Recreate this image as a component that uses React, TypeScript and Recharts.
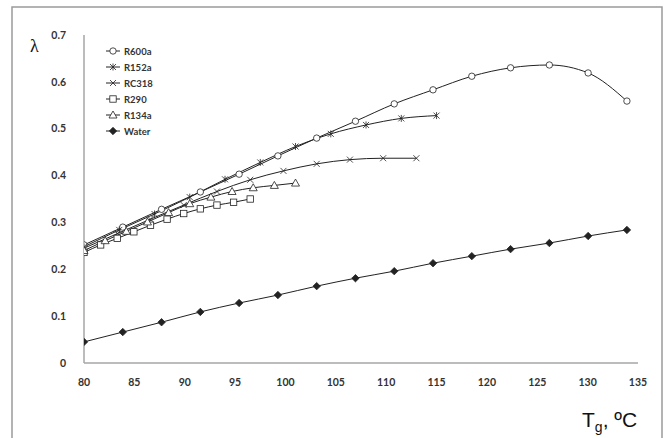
import React from "react";
import { LineChart, Line, XAxis, YAxis } from "recharts";

const R600A_T = [80, 83.85, 87.7, 91.55, 95.4, 99.25, 103.1, 106.95, 110.8, 114.65, 118.5, 122.35, 126.2, 130.05, 133.9];
const R600A_L = [0.252, 0.29, 0.328, 0.365, 0.403, 0.442, 0.48, 0.516, 0.553, 0.583, 0.612, 0.63, 0.636, 0.619, 0.559];

const R152A_T = [80, 83.5, 87, 90.5, 94, 97.5, 101, 104.5, 108, 111.5, 115];
const R152A_L = [0.248, 0.284, 0.318, 0.354, 0.392, 0.428, 0.462, 0.489, 0.508, 0.522, 0.528];

const RC318_T = [80, 83.3, 86.6, 89.9, 93.2, 96.5, 99.8, 103.1, 106.4, 109.7, 113];
const RC318_L = [0.245, 0.276, 0.307, 0.337, 0.366, 0.391, 0.41, 0.425, 0.434, 0.437, 0.437];

const R290_T = [80, 81.65, 83.3, 84.95, 86.6, 88.25, 89.9, 91.55, 93.2, 94.85, 96.5];
const R290_L = [0.236, 0.252, 0.266, 0.28, 0.294, 0.307, 0.319, 0.329, 0.337, 0.343, 0.35];

const R134A_T = [80, 82.1, 84.2, 86.3, 88.4, 90.5, 92.6, 94.7, 96.8, 98.9, 101];
const R134A_L = [0.24, 0.261, 0.281, 0.301, 0.321, 0.34, 0.354, 0.366, 0.374, 0.379, 0.384];

const WATER_T = [80, 83.85, 87.7, 91.55, 95.4, 99.25, 103.1, 106.95, 110.8, 114.65, 118.5, 122.35, 126.2, 130.05, 133.9];
const WATER_L = [0.045, 0.066, 0.087, 0.109, 0.128, 0.145, 0.164, 0.181, 0.196, 0.213, 0.228, 0.243, 0.256, 0.271, 0.284];

const X_TICKS = [80, 85, 90, 95, 100, 105, 110, 115, 120, 125, 130, 135];
const Y_TICKS = [0, 0.1, 0.2, 0.3, 0.4, 0.5, 0.6, 0.7];
const Y_LABELS = ["0", "0.1", "0.2", "0.3", "0.4", "0.5", "0.6", "0.7"];

const SERIES_NAMES = ["R600a", "R152a", "RC318", "R290", "R134a", "Water"];
const SERIES_MARKERS = ["circle", "star", "cross", "square", "triangle", "diamond"];

const build = (ts: number[], ls: number[]) => ts.map((t, i) => ({ t, v: ls[i] }));

const SERIES = [
  build(R600A_T, R600A_L),
  build(R152A_T, R152A_L),
  build(RC318_T, RC318_L),
  build(R290_T, R290_L),
  build(R134A_T, R134A_L),
  build(WATER_T, WATER_L),
];

const INK = "#222";

function Marker({ type, cx, cy }: { type: string; cx: number; cy: number }) {
  const sw = 0.8;
  switch (type) {
    case "circle":
      return <circle cx={cx} cy={cy} r={3.2} fill="#fff" stroke={INK} strokeWidth={sw} />;
    case "star":
      return (
        <g stroke={INK} strokeWidth={sw}>
          <line x1={cx - 3} y1={cy - 3} x2={cx + 3} y2={cy + 3} />
          <line x1={cx - 3} y1={cy + 3} x2={cx + 3} y2={cy - 3} />
          <line x1={cx} y1={cy - 3.5} x2={cx} y2={cy + 3.5} />
        </g>
      );
    case "cross":
      return (
        <g stroke={INK} strokeWidth={sw}>
          <line x1={cx - 3} y1={cy - 3} x2={cx + 3} y2={cy + 3} />
          <line x1={cx - 3} y1={cy + 3} x2={cx + 3} y2={cy - 3} />
        </g>
      );
    case "square":
      return <rect x={cx - 3.2} y={cy - 3.2} width={6.4} height={6.4} fill="#fff" stroke={INK} strokeWidth={sw} />;
    case "triangle":
      return (
        <polygon
          points={`${cx},${cy - 4} ${cx + 4},${cy + 3} ${cx - 4},${cy + 3}`}
          fill="#fff"
          stroke={INK}
          strokeWidth={sw}
        />
      );
    case "diamond":
    default:
      return (
        <polygon
          points={`${cx},${cy - 3.7} ${cx + 3.7},${cy} ${cx},${cy + 3.7} ${cx - 3.7},${cy}`}
          fill={INK}
          stroke={INK}
          strokeWidth={sw}
        />
      );
  }
}

const tickStyle = { fontFamily: "Lato, 'Open Sans', sans-serif", fontSize: 10.5, fontWeight: 700, fill: "#333" };

export default function App() {
  const W = 664;
  const H = 438;
  return (
    <div style={{ position: "absolute", left: 0, top: 0, width: W, height: H, background: "#fff" }}>
      <LineChart
        width={W}
        height={H}
        margin={{ top: 35, right: 26, bottom: 45, left: 34 }}
      >
        <XAxis
          type="number"
          dataKey="t"
          domain={[80, 135]}
          ticks={X_TICKS}
          interval={0}
          allowDataOverflow
          height={30}
          tickLine={false}
          tickSize={0}
          tickMargin={16}
          axisLine={{ stroke: "#a6a6a6", strokeWidth: 1.5 }}
          tick={tickStyle}
        />
        <YAxis
          type="number"
          domain={[0, 0.7]}
          ticks={Y_TICKS}
          interval={0}
          width={50}
          tickLine={false}
          tickSize={0}
          tickMargin={18}
          tickFormatter={(v: number) => Y_LABELS[Y_TICKS.findIndex((y) => Math.abs(y - v) < 1e-9)] ?? String(v)}
          axisLine={{ stroke: "#a6a6a6", strokeWidth: 1.5 }}
          tick={tickStyle}
        />
        {SERIES.map((data, si) => (
          <Line
            key={SERIES_NAMES[si]}
            data={data}
            dataKey="v"
            name={SERIES_NAMES[si]}
            type="monotone"
            stroke={INK}
            strokeWidth={1}
            isAnimationActive={false}
            dot={(p: any) => (
              <Marker key={`${si}-${p.index}`} type={SERIES_MARKERS[si]} cx={p.cx} cy={p.cy} />
            )}
            activeDot={false}
          />
        ))}
      </LineChart>
      <svg
        width={W}
        height={H}
        style={{ position: "absolute", left: 0, top: 0, pointerEvents: "none" }}
      >
        <rect x={12} y={7} width={650} height={440} fill="none" stroke="#9a9a9a" strokeWidth={1.5} />
        <text x={30} y={52} fontFamily="'Liberation Serif', serif" fontSize={18} fill="#111">
          λ
        </text>
        {SERIES_NAMES.map((name, i) => {
          const y = 51 + i * 16;
          return (
            <g key={name}>
              <line x1={106} y1={y} x2={120} y2={y} stroke={INK} strokeWidth={1} />
              <Marker type={SERIES_MARKERS[i]} cx={113} cy={y} />
              <text
                x={124}
                y={y + 3.5}
                fontFamily="Lato, 'Open Sans', sans-serif"
                fontSize={9.5}
                fontWeight={700}
                fill="#333"
              >
                {name}
              </text>
            </g>
          );
        })}
        <text x={582} y={427} fontFamily="'Liberation Sans', Arial, sans-serif" fontSize={21} fill="#111">
          T
          <tspan fontSize={14} dy={5}>g</tspan>
          <tspan dy={-5}>, ºC</tspan>
        </text>
      </svg>
    </div>
  );
}
